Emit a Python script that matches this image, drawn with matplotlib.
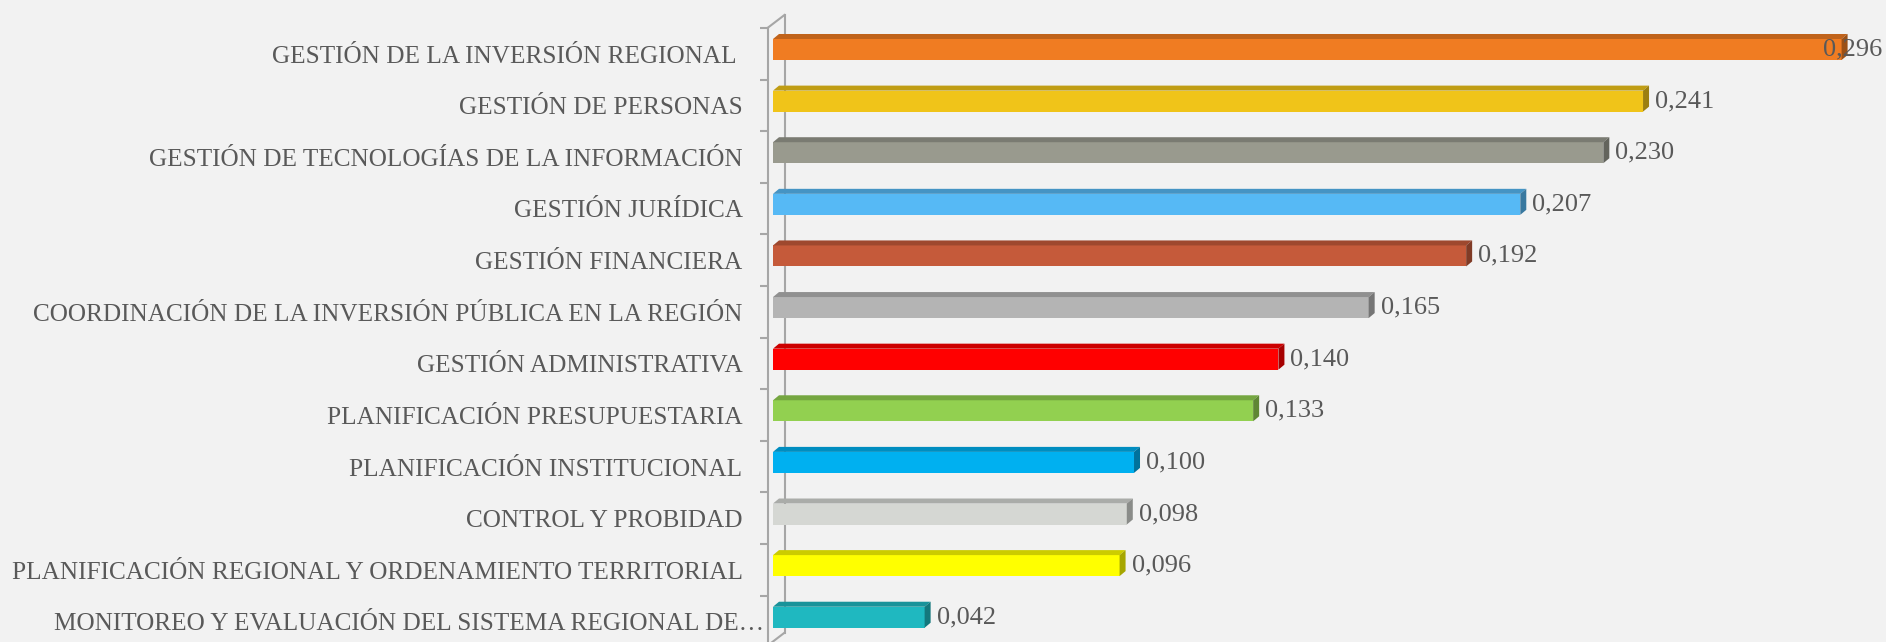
import matplotlib
matplotlib.use('Agg')
import matplotlib.pyplot as plt
from matplotlib.patches import Polygon
import matplotlib.colors as mcolors
import matplotlib.transforms as mtransforms

categories = [
    "GESTIÓN DE LA INVERSIÓN REGIONAL ",
    "GESTIÓN DE PERSONAS",
    "GESTIÓN DE TECNOLOGÍAS DE LA INFORMACIÓN",
    "GESTIÓN JURÍDICA",
    "GESTIÓN FINANCIERA",
    "COORDINACIÓN DE LA INVERSIÓN PÚBLICA EN LA REGIÓN",
    "GESTIÓN ADMINISTRATIVA",
    "PLANIFICACIÓN PRESUPUESTARIA",
    "PLANIFICACIÓN INSTITUCIONAL",
    "CONTROL Y PROBIDAD",
    "PLANIFICACIÓN REGIONAL Y ORDENAMIENTO TERRITORIAL",
    "MONITOREO Y EVALUACIÓN DEL SISTEMA REGIONAL DE…",
]
values = [0.296, 0.241, 0.230, 0.207, 0.192, 0.165, 0.140, 0.133, 0.100, 0.098, 0.096, 0.042]
colors = ["#F07C22", "#F0C419", "#999A8E", "#56B9F5", "#C55A3A", "#B4B4B4",
          "#FF0000", "#92D050", "#00B0F0", "#D5D7D3", "#FFFF00", "#1FB8C0"]
value_labels = [f"{v:.3f}".replace('.', ',') for v in values]

FONT = ['Liberation Serif', 'DejaVu Serif']
TXT = '#595959'
AXC = '#A6A6A6'

W, H = 1886, 642
fig = plt.figure(figsize=(W / 100, H / 100), dpi=100)
fig.patch.set_facecolor('#F2F2F2')
ax = fig.add_axes([773 / W, 0, 1113 / W, 1])
ax.set_facecolor('none')
xmax = 0.3083
ax.set_xlim(0, xmax)
ax.set_ylim(11.48, -0.959)
px_x = xmax / 1113
px_y = (11.48 + 0.959) / 642

ypos = list(range(len(categories)))
bh = 21 * px_y
dx, dy = 6 * px_x, 5 * px_y


def shade(c, f):
    r, g, b = mcolors.to_rgb(c)
    return (r * f, g * f, b * f)


# axis walls (front line = left spine, back line behind bars)
front_x = -5.5 * px_x
back_x = 11.5 * px_x
top_front = -0.417
top_back = top_front - 13 * px_y
ax.plot([back_x, back_x], [top_back, 11.30], color=AXC, lw=1.5, zorder=1, clip_on=False)
ax.plot([front_x, back_x], [top_front, top_back], color=AXC, lw=1.5, zorder=1, clip_on=False)
ax.plot([back_x, front_x], [11.30, 11.30 + 13 * px_y], color=AXC, lw=1.5, zorder=1, clip_on=False)

bars = ax.barh(ypos, values, height=bh, color=colors, zorder=3)
for y, v, c in zip(ypos, values, colors):
    t = y - bh / 2
    b = y + bh / 2
    ax.add_patch(Polygon([(0, t), (v, t), (v + dx, t - dy), (dx, t - dy)],
                         closed=True, facecolor=shade(c, 0.8), edgecolor='none', zorder=3))
    ax.add_patch(Polygon([(v, t), (v + dx, t - dy), (v + dx, b - dy), (v, b)],
                         closed=True, facecolor=shade(c, 0.65), edgecolor='none', zorder=3))

# spines / ticks
for s in ['top', 'right', 'bottom']:
    ax.spines[s].set_visible(False)
ax.spines['left'].set_position(('data', front_x))
ax.spines['left'].set_color(AXC)
ax.spines['left'].set_linewidth(1.5)
ax.spines['left'].set_bounds(top_front, 11.48)
ax.set_xticks([])
ax.set_yticks([y + 0.09 for y in ypos])
ax.set_yticklabels(categories, fontfamily=FONT, fontsize=18.2, color=TXT)
ax.tick_params(axis='y', which='major', length=0, pad=18)
ax.set_yticks([top_front + k for k in range(len(categories))], minor=True)
ax.tick_params(axis='y', which='minor', length=6, width=1.5, color=AXC, direction='out')

fig.canvas.draw()
r = fig.canvas.get_renderer()

# truncated (ellipsis) label sits closer to the axis, as in the original
last = ax.get_yticklabels()[-1]
last.set_transform(last.get_transform() +
                   mtransforms.ScaledTranslation(22 / 100, 0, fig.dpi_scale_trans))

# value labels
for y, v, lab in zip(ypos, values, value_labels):
    tx = ax.text(v + 12 * px_x, y, lab, fontfamily=FONT, fontsize=19, color=TXT,
                 va='center', ha='left', zorder=5, clip_on=False)
    bb = tx.get_window_extent(renderer=r)
    if bb.x1 > W - 2:
        tx.set_ha('right')
        tx.set_x(xmax - 4 * px_x)

fig.savefig('out.png', dpi=100, facecolor=fig.get_facecolor())
